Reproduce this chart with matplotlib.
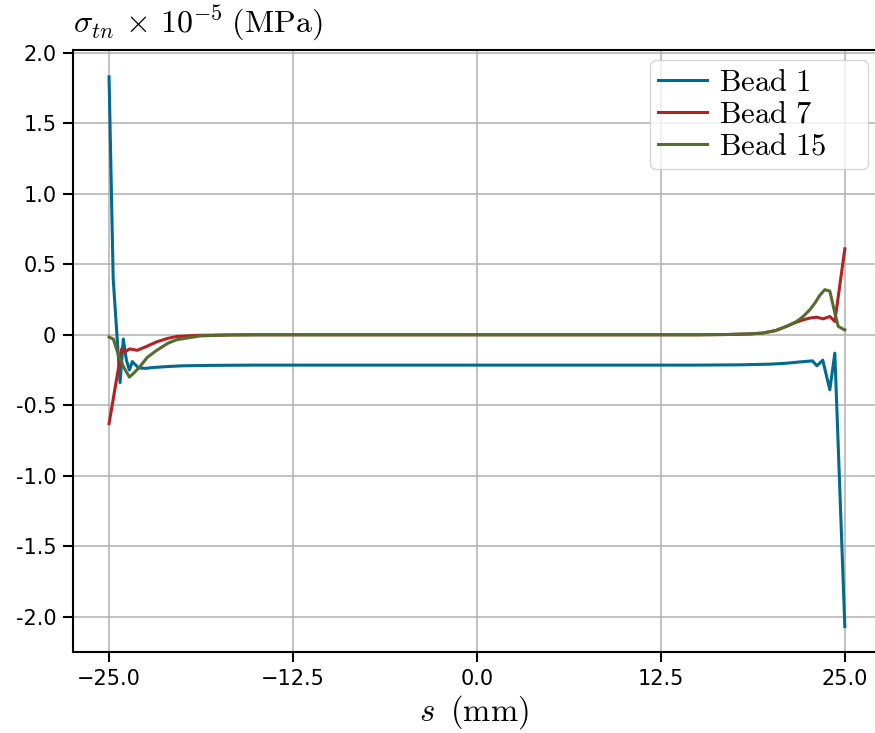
import numpy as np
import matplotlib
matplotlib.use("Agg")
import matplotlib.pyplot as plt

plt.rcParams['mathtext.fontset'] = 'cm'

# bead 1
s_b1 = [-25.0, -24.72, -24.25, -24.03, -23.82, -23.62, -23.42, -23.0, -22.5, -22.0,
        -21.0, -20.0, -18.0, -15.0, -10.0, 0.0, 10.0, 15.0, 18.0, 20.0,
        21.0, 22.0, 22.8, 23.1, 23.5, 23.98, 24.32, 25.0]
bead1 = [1.83, 0.40, -0.34, -0.03, -0.18, -0.25, -0.19, -0.235, -0.238, -0.232,
         -0.225, -0.22, -0.217, -0.215, -0.215, -0.215, -0.215, -0.215, -0.213, -0.208,
         -0.202, -0.192, -0.185, -0.22, -0.18, -0.39, -0.13, -2.07]

# bead 7
s_b7 = [-25.0, -24.14, -23.9, -23.6, -23.1, -22.5, -21.76, -21.0, -20.4, -19.0,
        -17.0, -15.0, 0.0, 15.0, 17.0, 18.5, 19.4, 20.3, 21.04, 21.6,
        22.17, 22.6, 23.08, 23.53, 23.98, 24.32, 25.0]
bead7 = [-0.63, -0.10, -0.12, -0.10, -0.11, -0.085, -0.05, -0.025, -0.012, -0.004,
         -0.001, 0.0, 0.0, 0.0, 0.002, 0.006, 0.012, 0.03, 0.06, 0.085,
         0.106, 0.118, 0.125, 0.113, 0.13, 0.094, 0.61]

# bead 15
s_b15 = [-25.0, -24.71, -24.4, -24.03, -23.62, -23.3, -22.9, -22.4, -21.76, -21.0,
         -20.4, -18.8, -17.0, -15.0, 0.0, 15.0, 17.0, 18.5, 19.4, 20.3,
         21.04, 21.72, 22.17, 22.62, 23.0, 23.3, 23.64, 23.98, 24.32, 24.55,
         24.88, 25.0]
bead15 = [-0.016, -0.03, -0.13, -0.225, -0.30, -0.27, -0.225, -0.16, -0.11, -0.06,
          -0.035, -0.008, -0.002, 0.0, 0.0, 0.0, 0.002, 0.006, 0.012, 0.03,
          0.06, 0.094, 0.13, 0.177, 0.23, 0.28, 0.32, 0.31, 0.155, 0.06,
          0.04, 0.035]

yticks = [-2.0, -1.5, -1.0, -0.5, 0.0, 0.5, 1.0, 1.5, 2.0]
ytick_labels = ['-2.0', '-1.5', '-1.0', '-0.5', '0', '0.5', '1.0', '1.5', '2.0']
xticks = [-25.0, -12.5, 0.0, 12.5, 25.0]

fig = plt.figure(figsize=(8.75, 7.33), dpi=100)
ax = fig.add_axes([73/875, 1 - 652/733, (875 - 73)/875, (652 - 50)/733])

ax.plot(s_b1, bead1, color='#006b8f', lw=2.2, label=r'$\mathrm{Bead\ 1}$')
ax.plot(s_b7, bead7, color='#b22222', lw=2.2, label=r'$\mathrm{Bead\ 7}$')
ax.plot(s_b15, bead15, color='#556b2f', lw=2.2, label=r'$\mathrm{Bead\ 15}$')

ax.set_xlim(-27.45, 27.05)
ax.set_ylim(-2.25, 2.02)
ax.set_xticks(xticks)
ax.set_yticks(yticks)
ax.set_yticklabels(ytick_labels)
ax.tick_params(labelsize=15, length=7, width=1.5, pad=5)
ax.grid(color='#b0b0b0', lw=1.1)
ax.set_axisbelow(True)
for sp in ['left', 'bottom', 'top']:
    ax.spines[sp].set_linewidth(1.5)
ax.spines['right'].set_visible(False)

ax.set_xlabel(r'$s\;\;\mathrm{(mm)}$', fontsize=23.5, labelpad=3)
ax.text(0.0, 1.012, r'$\sigma_{tn}\,\times\,10^{-5}\;\mathrm{(MPa)}$', fontsize=23,
        transform=ax.transAxes, ha='left', va='bottom')

ax.legend(loc='upper left', bbox_to_anchor=(0.7195, 0.983, 0.2715, 0.0), mode='expand',
          fontsize=22, handlelength=1.6, handletextpad=0.4,
          borderaxespad=0.0, labelspacing=0.1, borderpad=0.25)

fig.savefig('out.png', dpi=100)
